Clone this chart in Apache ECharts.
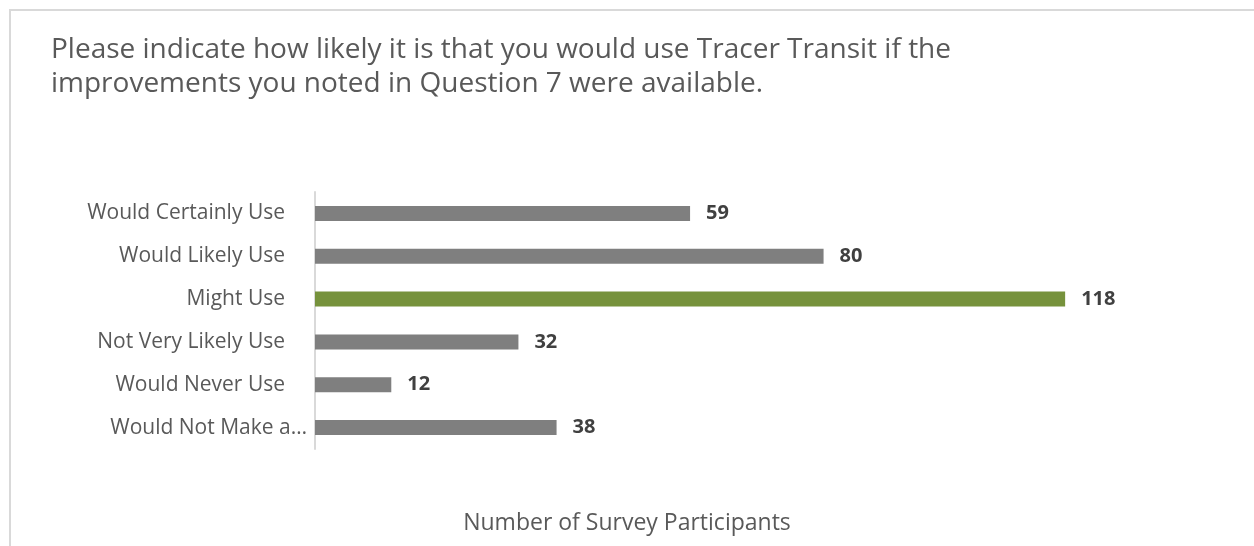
<!DOCTYPE html>
<html>
<head>
<meta charset="utf-8">
<script src="https://cdn.jsdelivr.net/npm/echarts@6/dist/echarts.min.js"></script>
<style>
	html, body { margin: 0; padding: 0; background: #fff; }
	#chart { width: 1254px; height: 546px; }
</style>
</head>
<body>
<div id="chart"></div>
<script>
// survey answers, listed top to bottom as in the picture
const categories = [
	'Would Certainly Use',
	'Would Likely Use',
	'Might Use',
	'Not Very Likely Use',
	'Would Never Use',
	'Would Not Make a\u2026'
];
const participants = [59, 80, 118, 32, 12, 38];
const highlightIndex = 2;

const questionText = 'Please indicate how likely it is that you would use Tracer Transit if the\nimprovements you noted in Question 7 were available.';
const axisTitle = 'Number of Survey Participants';

const FONT = '"Open Sans", sans-serif';
const GRAY = '#7f7f7f';
const GREEN = '#76923c';

const chart = echarts.init(document.getElementById('chart'));

chart.setOption({
	animation: false,
	textStyle: { fontFamily: FONT },
	title: [
		{
			text: questionText,
			left: 46,
			top: 28,
			textStyle: { fontFamily: FONT, fontSize: 28, fontWeight: 'normal', color: '#595959', lineHeight: 34 }
		},
		{
			text: axisTitle,
			left: 622,
			top: 507,
			textAlign: 'center',
			textStyle: { fontFamily: FONT, fontSize: 23, fontWeight: 'normal', color: '#595959' }
		}
	],
	graphic: [{
		type: 'rect',
		shape: { x: 10, y: 10, width: 1400, height: 700 },
		style: { fill: 'none', stroke: '#d9d9d9', lineWidth: 2 },
		silent: true
	}],
	grid: { left: 315, right: 49, top: 192, height: 257 },
	xAxis: {
		type: 'value',
		min: 0,
		max: 140,
		show: false
	},
	yAxis: {
		type: 'category',
		inverse: true,
		data: categories,
		axisLine: { show: true, lineStyle: { color: '#d9d9d9', width: 2 } },
		axisTick: { show: false },
		axisLabel: {
			margin: 8,
			formatter: function (v) {
				return v.indexOf('\u2026') >= 0 ? '{t|' + v + '}' : '{n|' + v + '}';
			},
			rich: {
				n: { fontFamily: FONT, fontSize: 21, color: '#595959', padding: [0, 22, 0, 0] },
				t: { fontFamily: FONT, fontSize: 21, color: '#595959' }
			}
		}
	},
	series: [{
		type: 'bar',
		barWidth: 15,
		data: participants.map(function (v, i) {
			return { value: v, itemStyle: { color: i === highlightIndex ? GREEN : GRAY } };
		}),
		label: {
			show: true,
			position: 'right',
			distance: 16,
			fontFamily: FONT,
			fontSize: 20,
			fontWeight: 'bold',
			color: '#404040'
		}
	}]
});
</script>
</body>
</html>
